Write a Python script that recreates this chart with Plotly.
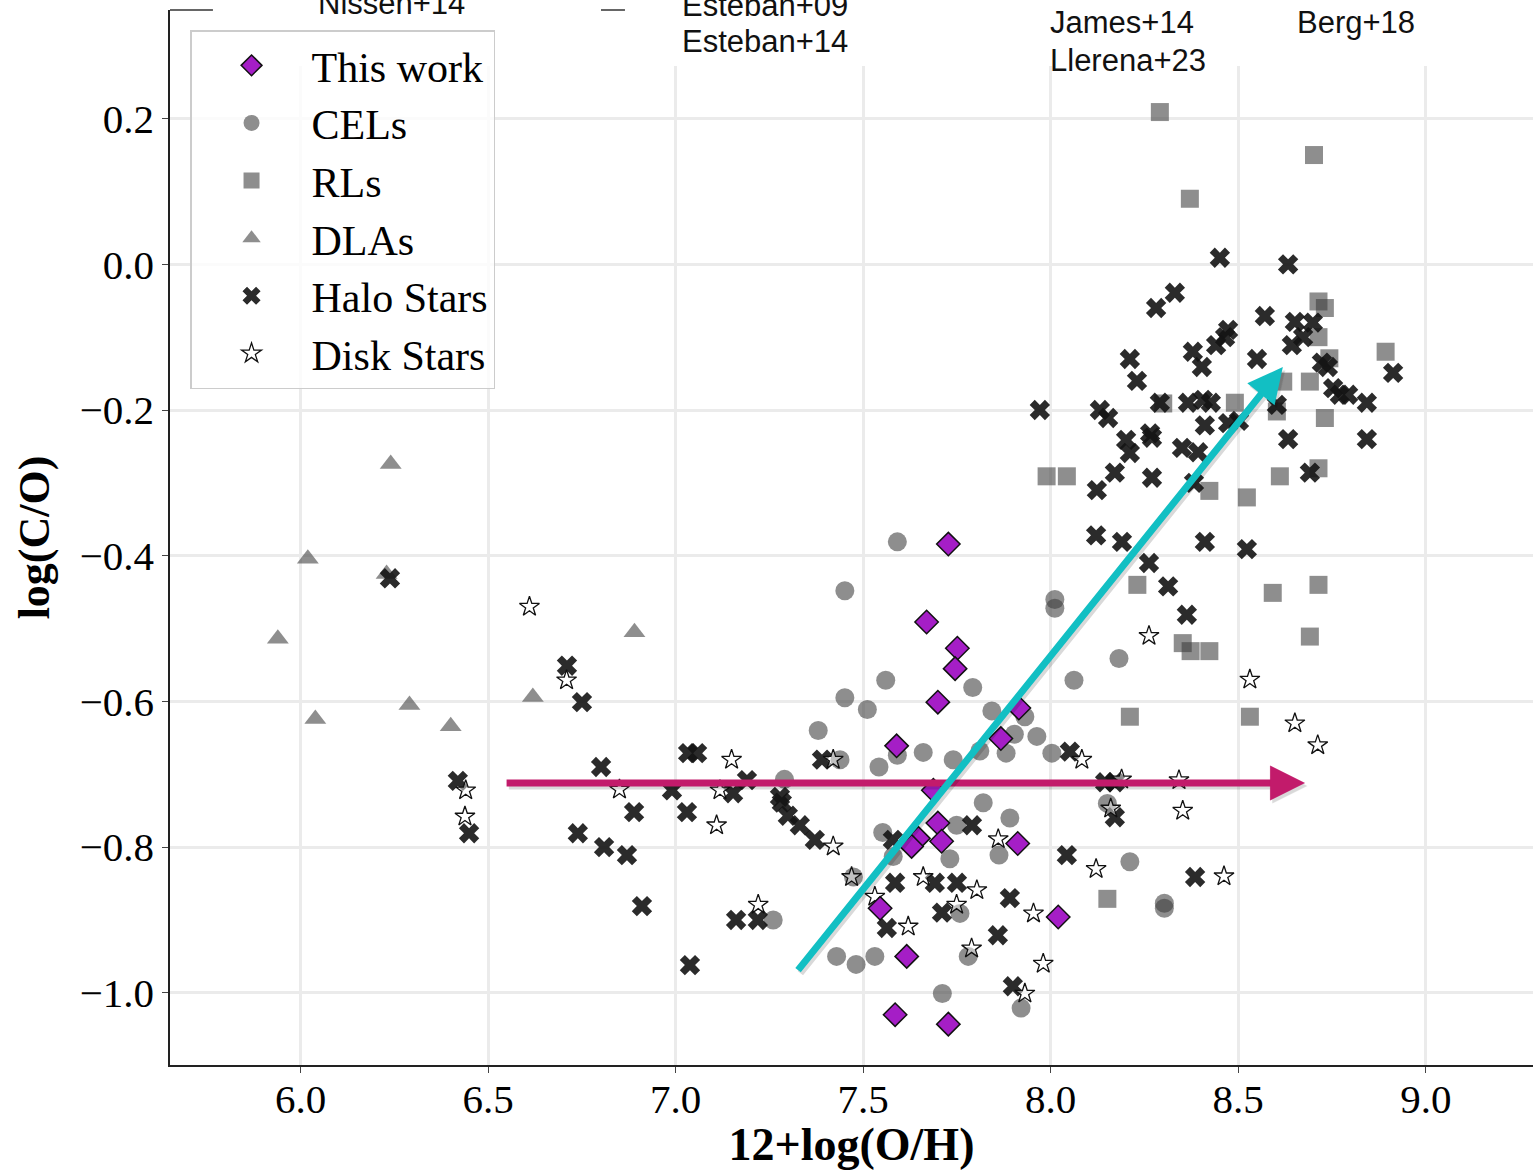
import plotly.graph_objects as go

# ---------------- data ----------------
this_work_x = [7.727, 7.669, 7.751, 7.745, 7.699, 7.915, 7.589, 7.867, 7.687, 7.699,
               7.647, 7.629, 7.709, 7.912, 7.545, 8.020, 7.616, 7.585, 7.727]
this_work_y = [-0.384, -0.491, -0.527, -0.555, -0.601, -0.609, -0.661, -0.651, -0.722, -0.767,
               -0.788, -0.799, -0.792, -0.795, -0.884, -0.896, -0.950, -1.030, -1.043]

cel_x = [7.591, 7.451, 8.011, 8.011, 8.182, 7.560, 8.062, 7.792, 7.451, 7.511,
         7.843, 7.931, 7.380, 7.903, 7.963, 7.660, 7.740, 7.811, 7.881, 8.003,
         7.591, 7.542, 7.438, 7.290, 7.820, 8.151, 7.891, 7.749, 7.552, 7.580,
         7.731, 7.862, 8.211, 7.474, 7.260, 7.758, 8.303, 8.303, 7.429, 7.481,
         7.531, 7.780, 7.711, 7.921]
cel_y = [-0.381, -0.448, -0.460, -0.472, -0.541, -0.571, -0.571, -0.581, -0.595, -0.611,
         -0.613, -0.621, -0.640, -0.645, -0.648, -0.670, -0.680, -0.668, -0.671, -0.671,
         -0.674, -0.690, -0.680, -0.707, -0.739, -0.740, -0.760, -0.770, -0.780, -0.813,
         -0.816, -0.811, -0.820, -0.841, -0.900, -0.891, -0.877, -0.884, -0.950, -0.961,
         -0.950, -0.950, -1.001, -1.021]

rl_x = [8.291, 8.702, 8.371, 8.714, 8.731, 8.714, 8.743, 8.893, 8.620, 8.691,
        8.300, 8.491, 8.603, 8.731, 7.989, 8.043, 8.611, 8.714, 8.423, 8.523,
        8.231, 8.592, 8.714, 8.352, 8.373, 8.423, 8.691, 8.211, 8.531, 8.151]
rl_y = [0.209, 0.150, 0.090, -0.051, -0.060, -0.100, -0.129, -0.120, -0.161, -0.161,
        -0.191, -0.190, -0.202, -0.211, -0.291, -0.291, -0.291, -0.280, -0.311, -0.320,
        -0.440, -0.451, -0.440, -0.520, -0.531, -0.531, -0.511, -0.621, -0.621, -0.871]

dla_x = [6.240, 6.019, 6.229, 5.939, 6.890, 6.619, 6.290, 6.039, 6.400]
dla_y = [-0.274, -0.404, -0.425, -0.514, -0.505, -0.594, -0.605, -0.624, -0.634]

halo_x = [6.238, 6.710, 6.750, 6.801, 7.033, 7.057, 6.419, 6.990, 6.889, 7.030,
          6.449, 6.739, 6.809, 6.870, 6.910, 7.038, 7.161, 7.219, 7.190, 7.153,
          7.278, 7.283, 7.299, 7.331, 7.371, 7.390, 7.579, 7.585, 7.691, 7.750,
          7.710, 7.563, 7.891, 7.859, 7.899, 8.043, 8.171, 8.385, 7.790, 8.051,
          8.145, 8.171,
          7.971, 8.131, 8.153, 8.123, 8.171, 8.230, 8.211, 8.281, 8.331, 8.451,
          8.379, 8.403, 8.265, 8.270, 8.201, 8.211, 8.291, 8.366, 8.406, 8.427,
          8.411, 8.473, 8.502, 8.350, 8.393, 8.270, 8.382, 8.121, 8.190, 8.411,
          8.523, 8.262, 8.313, 8.363, 8.473, 8.465, 8.441, 8.571, 8.633, 8.651,
          8.699, 8.673, 8.643, 8.550, 8.723, 8.739, 8.913, 8.753, 8.771, 8.793,
          8.843, 8.603, 8.633, 8.843, 8.691]
halo_y = [-0.431, -0.551, -0.601, -0.690, -0.671, -0.671, -0.709, -0.722, -0.752, -0.752,
          -0.781, -0.781, -0.800, -0.811, -0.881, -0.962, -0.900, -0.900, -0.708, -0.726,
          -0.731, -0.739, -0.757, -0.770, -0.790, -0.680, -0.790, -0.849, -0.849, -0.849,
          -0.890, -0.911, -0.870, -0.921, -0.991, -0.811, -0.759, -0.841, -0.770, -0.669,
          -0.711, -0.711,
          -0.200, -0.200, -0.211, -0.310, -0.286, -0.160, -0.130, -0.060, -0.039, 0.009,
          -0.120, -0.141, -0.232, -0.238, -0.241, -0.259, -0.190, -0.190, -0.186, -0.190,
          -0.221, -0.218, -0.215, -0.252, -0.258, -0.293, -0.300, -0.372, -0.381, -0.381,
          -0.391, -0.410, -0.442, -0.481, -0.090, -0.100, -0.111, -0.071, 0.000, -0.079,
          -0.080, -0.100, -0.111, -0.130, -0.135, -0.141, -0.149, -0.170, -0.179, -0.179,
          -0.190, -0.193, -0.240, -0.240, -0.286]

disk_x = [6.610, 6.709, 6.440, 6.438, 6.850, 7.149, 7.420, 8.083, 8.262, 7.118,
          8.189, 8.342, 7.109, 7.420, 7.469, 7.220, 7.531, 7.660, 7.803, 7.749,
          7.860, 7.620, 7.789, 7.954, 7.980, 7.931, 8.121, 8.160, 8.352, 8.531,
          8.651, 8.712, 8.462]
disk_y = [-0.470, -0.571, -0.722, -0.758, -0.721, -0.680, -0.680, -0.680, -0.510, -0.722,
          -0.707, -0.708, -0.770, -0.799, -0.841, -0.879, -0.868, -0.841, -0.859, -0.879,
          -0.789, -0.909, -0.939, -0.891, -0.960, -1.001, -0.830, -0.747, -0.750, -0.570,
          -0.630, -0.660, -0.840]

# trend arrows: (tail, head)
flat_arrow = dict(x0=6.545, y0=-0.712, x1=8.678, y1=-0.712)
rise_arrow = dict(x0=7.323, y0=-0.971, x1=8.619, y1=-0.141)

x_ticks = [6.0, 6.5, 7.0, 7.5, 8.0, 8.5, 9.0]
y_ticks = [0.2, 0.0, -0.2, -0.4, -0.6, -0.8, -1.0]
x_range = [5.6515, 9.286]
y_range = [-1.0991, 0.3491]

top_labels = [("Nissen+14", 0.1071, 1.0066), ("Esteban+09", 0.3742, 1.0047),
              ("Esteban+14", 0.3742, 0.9706), ("James+14", 0.6442, 0.9886),
              ("Llerena+23", 0.6442, 0.9526), ("Berg+18", 0.8254, 0.9886)]

# ---------------- figure ----------------
SERIF = "Liberation Serif"
SANS = "Liberation Sans"
GRAY = "rgba(60,60,60,0.58)"

fig = go.Figure()
fig.add_trace(go.Scatter(x=cel_x, y=cel_y, mode="markers", name="CELs", legendrank=2,
                         marker=dict(symbol="circle", size=19, color=GRAY, line=dict(width=0))))
fig.add_trace(go.Scatter(x=rl_x, y=rl_y, mode="markers", name="RLs", legendrank=3,
                         marker=dict(symbol="square", size=18, color=GRAY, line=dict(width=0))))
fig.add_trace(go.Scatter(x=dla_x, y=dla_y, mode="markers", name="DLAs", legendrank=4,
                         marker=dict(symbol="triangle-up", size=19, color=GRAY, line=dict(width=0))))
fig.add_trace(go.Scatter(x=halo_x, y=halo_y, mode="markers", name="Halo Stars", legendrank=5,
                         marker=dict(symbol="x", size=18, color="rgba(20,20,20,0.9)", line=dict(width=0))))
fig.add_trace(go.Scatter(x=disk_x, y=disk_y, mode="markers", name="Disk Stars", legendrank=6,
                         marker=dict(symbol="star", size=15, color="rgba(255,255,255,0.45)",
                                     line=dict(width=1.3, color="#111111"))))
fig.add_trace(go.Scatter(x=this_work_x, y=this_work_y, mode="markers", name="This work", legendrank=1,
                         marker=dict(symbol="diamond", size=18, color="#a51ec6",
                                     line=dict(width=1.5, color="#111111"))))

annotations = []
for arr, col in ((flat_arrow, "#c21b6b"), (rise_arrow, "#12bfc3")):
    # faint drop shadow
    annotations.append(dict(x=arr["x1"] + 0.006, y=arr["y1"] - 0.004, ax=arr["x0"] + 0.006, ay=arr["y0"] - 0.004,
                            xref="x", yref="y", axref="x", ayref="y", text="", showarrow=True,
                            arrowhead=2, arrowsize=1, arrowwidth=7, arrowcolor="rgba(0,0,0,0.15)"))
    annotations.append(dict(x=arr["x1"], y=arr["y1"], ax=arr["x0"], ay=arr["y0"],
                            xref="x", yref="y", axref="x", ayref="y", text="", showarrow=True,
                            arrowhead=2, arrowsize=1, arrowwidth=7, arrowcolor=col))
for txt, lx, ly in top_labels:
    annotations.append(dict(text=txt, x=lx, y=ly, xref="paper", yref="paper", xanchor="left",
                            yanchor="middle", showarrow=False,
                            font=dict(family=SANS, size=31, color="#111111")))

shapes = [
    # white box of the (cropped) upper legend
    dict(type="rect", xref="paper", yref="paper", x0=0.0315, x1=1.0, y0=0.947, y1=1.02,
         fillcolor="white", line=dict(width=0), layer="above"),
    # visible part of the top frame
    dict(type="line", xref="paper", yref="paper", x0=0.0, x1=0.0315, y0=1.0, y1=1.0,
         line=dict(color="#333333", width=1.5), layer="above"),
    # legend handle next to Esteban
    dict(type="line", xref="paper", yref="paper", x0=0.3162, x1=0.3338, y0=1.0, y1=1.0,
         line=dict(color="#333333", width=1.5), layer="above"),
]

axis_common = dict(showline=True, linecolor="#222222", linewidth=1.5, mirror=False,
                   ticks="outside", ticklen=6, tickwidth=1.2, tickcolor="#444444",
                   showgrid=True, gridcolor="#ebebeb", gridwidth=2.5, zeroline=False,
                   tickfont=dict(family=SERIF, size=41, color="black"), tickformat=".1f")

fig.update_layout(
    width=1533, height=1170,
    margin=dict(l=170, r=0, t=10, b=105),
    paper_bgcolor="white", plot_bgcolor="white",
    xaxis=dict(range=x_range, tickvals=x_ticks, ticklabelstandoff=-9, **axis_common,
               title=dict(text="<b>12+log(O/H)</b>", standoff=8,
                          font=dict(family=SERIF, size=46, color="black"))),
    yaxis=dict(range=y_range, tickvals=y_ticks, **axis_common,
               title=dict(text="<b>log(C/O)</b>", standoff=16,
                          font=dict(family=SERIF, size=44, color="black"))),
    legend=dict(x=0.0147, y=0.981, xanchor="left", yanchor="top",
                bgcolor="rgba(255,255,255,0.8)", bordercolor="#cccccc", borderwidth=1.5,
                font=dict(family=SERIF, size=42, color="black"), itemwidth=110,
                traceorder="normal"),
    annotations=annotations, shapes=shapes, showlegend=True,
)

fig.write_html("out.html")
